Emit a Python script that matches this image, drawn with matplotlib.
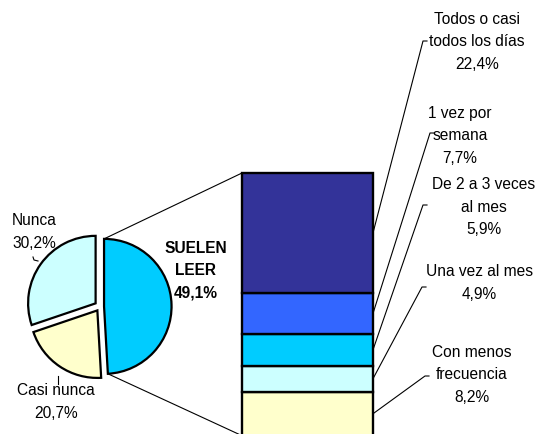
import numpy as np
import matplotlib
matplotlib.use("Agg")
import matplotlib.pyplot as plt
from matplotlib.lines import Line2D
from matplotlib.patches import ConnectionPatch

# pie: clockwise from the top
pie_labels = ["SUELEN\nLEER", "Casi nunca", "Nunca"]
pie_values = [49.1, 20.7, 30.2]
pie_colors = ["#00CCFF", "#FFFFCC", "#CCFFFF"]

# stacked bar: bottom to top
bar_labels = ["Con menos\nfrecuencia", "Una vez al mes", "De 2 a 3 veces\nal mes",
              "1 vez por\nsemana", "Todos o casi\ntodos los días"]
bar_values = [8.2, 4.9, 5.9, 7.7, 22.4]
bar_colors = ["#FFFFCC", "#CCFFFF", "#00CCFF", "#3366FF", "#333399"]

W, H = 540, 435
plt.rcParams["font.family"] = ["Liberation Sans", "DejaVu Sans"]
FS = 11.2
LS = 1.6


def fx(x):
    return x / W


def fy(y):
    return 1 - y / H


def pct(v):
    return f"{v:.1f}%".replace(".", ",")


fig = plt.figure(figsize=(W / 100, H / 100), dpi=100)

# --- pie -------------------------------------------------------------
cx, cy, r = 100, 307.5, 67.5
half = 1.2 * r
ax_pie = fig.add_axes([fx(cx - half), fy(cy + half), 2 * half / W, 2 * half / H])
wedges, _ = ax_pie.pie(pie_values, colors=pie_colors, startangle=90, counterclock=False,
                       explode=[0.06, 0.07, 0.08],
                       wedgeprops=dict(edgecolor="black", linewidth=1.6))
ax_pie.set_xlim(-1.2, 1.2)
ax_pie.set_ylim(-1.2, 1.2)
ax_pie.axis("off")

# --- bar -------------------------------------------------------------
total = sum(bar_values)
px_per_unit = 5.35
bar_top, bar_left, bar_w = 174, 242, 131
bar_h = total * px_per_unit
ax_bar = fig.add_axes([fx(bar_left), fy(bar_top + bar_h), bar_w / W, bar_h / H])
bottoms = np.concatenate([[0], np.cumsum(bar_values)[:-1]])
ax_bar.bar(0, bar_values, bottom=bottoms, width=1, color=bar_colors,
           edgecolor="black", linewidth=1.7, clip_on=False)
ax_bar.set_xlim(-0.5, 0.5)
ax_bar.set_ylim(0, total)
ax_bar.axis("off")

# connector lines from the exploded wedge to the bar
w = wedges[0]
corners = []
for th in (w.theta1, w.theta2):
    corners.append((w.center[0] + w.r * np.cos(np.radians(th)),
                    w.center[1] + w.r * np.sin(np.radians(th))))
corners.sort(key=lambda p: p[1])
for (px, py), yb in zip(corners, (0, total)):
    con = ConnectionPatch(xyA=(px, py), coordsA=ax_pie.transData,
                          xyB=(-0.5, yb), coordsB=ax_bar.transData,
                          color="black", linewidth=0.8)
    fig.add_artist(con)

# --- bar labels with leader lines -----------------------------------
hooks = [(425, 377), (422, 288), (423, 206), (430, 134), (423, 42)]
text_pos = [(472, 375), (479, 283), (484, 207), (460, 136), (477, 42)]
to_fig = ax_bar.transData + fig.transFigure.inverted()
for lab, v, b, (hx, hy), (tx, ty) in zip(bar_labels, bar_values, bottoms, hooks, text_pos):
    sx, sy = to_fig.transform((0.5, b + v / 2))
    fig.add_artist(Line2D([sx, fx(hx), fx(hx + 4)], [sy, fy(hy), fy(hy)],
                          color="black", linewidth=0.8))
    fig.text(fx(tx), fy(ty), f"{lab}\n{pct(v)}", ha="center", va="center",
             multialignment="center", fontsize=FS, linespacing=LS)

# --- pie labels ------------------------------------------------------
fig.text(fx(34), fy(232), f"{pie_labels[2]}\n{pct(pie_values[2])}", ha="center",
         va="center", fontsize=FS, linespacing=LS)
fig.text(fx(56), fy(402), f"{pie_labels[1]}\n{pct(pie_values[1])}", ha="center",
         va="center", fontsize=FS, linespacing=LS)
fig.text(fx(196), fy(271), f"{pie_labels[0]}\n{pct(pie_values[0])}", ha="center",
         va="center", fontsize=FS, fontweight="bold", linespacing=LS)
fig.add_artist(Line2D([fx(33), fx(34), fx(38)], [fy(258), fy(261), fy(262)],
                      color="black", linewidth=0.8))
fig.add_artist(Line2D([fx(58), fx(58)], [fy(377), fy(385)],
                      color="black", linewidth=0.8))

fig.savefig("out.png", dpi=100)
